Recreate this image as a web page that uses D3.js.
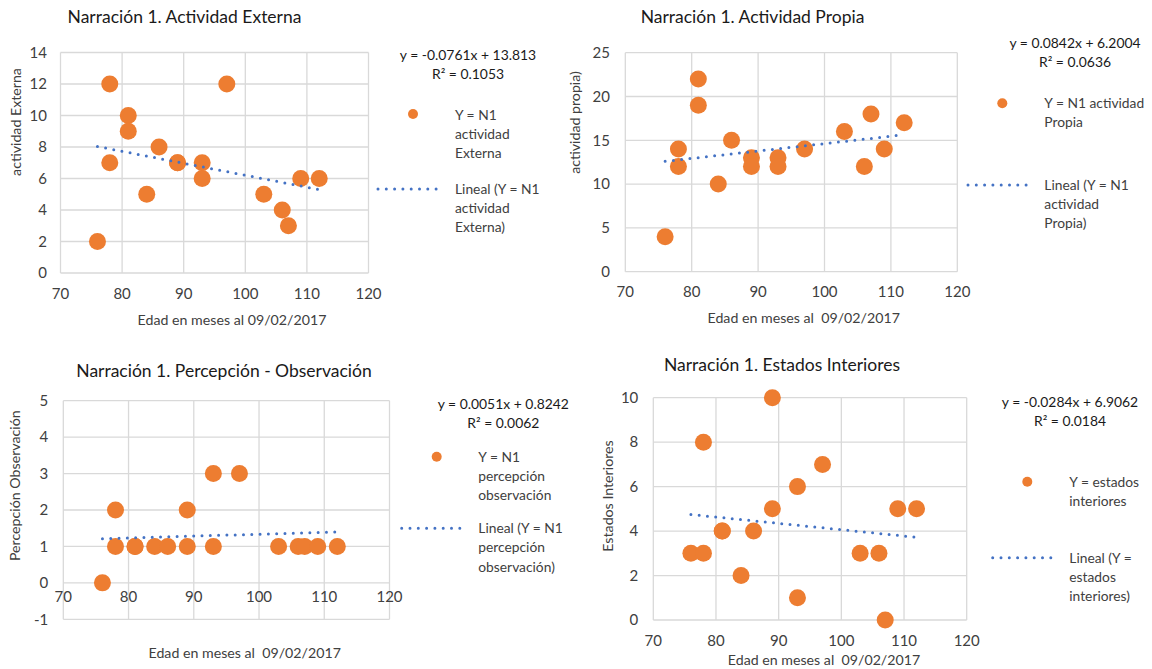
<!DOCTYPE html>
<html><head><meta charset="utf-8">
<script src="https://cdn.jsdelivr.net/npm/d3@7"></script>
<style>
html,body{margin:0;padding:0;background:#fff;}
svg{display:block;font-family:Lato, "Open Sans", sans-serif;}
</style></head>
<body>
<svg id="chart" width="1152" height="669"></svg>
<script>
// ---- data ----
const ages = [76,78,78,81,81,84,86,89,89,93,93,97,103,106,107,109,112];
const actividadExterna = [2,12,7,10,9,5,8,7,7,7,6,12,5,4,3,6,6];
const actividadPropia = [4,14,12,22,19,10,15,13,12,13,12,14,16,12,18,14,17];
const percepcionObservacion = [0,2,1,1,1,1,1,2,1,3,1,3,1,1,1,1,1];
const estadosInteriores = [3,8,3,4,4,2,4,10,5,6,1,7,3,3,0,5,5];

const xTicks = [70,80,90,100,110,120];
const yTicksExterna = [0,2,4,6,8,10,12,14];
const yTicksPropia = [0,5,10,15,20,25];
const yTicksPercepcion = [-1,0,1,2,3,4,5];
const yTicksEstados = [0,2,4,6,8,10];

const titles = ["Narración 1. Actividad Externa","Narración 1. Actividad Propia","Narración 1. Percepción - Observación","Narración 1. Estados Interiores"];
const yTitles = ["actividad Externa","actividad propia)","Percepción Observación","Estados Interiores"];
const xTitles = ["Edad en meses al 09/02/2017","Edad en meses al  09/02/2017","Edad en meses al  09/02/2017","Edad en meses al  09/02/2017"];
const equations = ["y = -0.0761x + 13.813","y = 0.0842x + 6.2004","y = 0.0051x + 0.8242","y = -0.0284x + 6.9062"];
const rSquared = ["R² = 0.1053","R² = 0.0636","R² = 0.0062","R² = 0.0184"];
const seriesLabels = [["Y = N1","actividad","Externa"],["Y = N1 actividad","Propia"],["Y = N1","percepción","observación"],["Y = estados","interiores"]];
const trendLabels = [["Lineal (Y = N1","actividad","Externa)"],["Lineal (Y = N1","actividad","Propia)"],["Lineal (Y = N1","percepción","observación)"],["Lineal (Y =","estados","interiores)"]];

// ---- layout ----
const panels = [
  {vals:actividadExterna, yTicks:yTicksExterna, plot:{x0:60.5,x1:368.5,y0:52.5,y1:273},
   title:{x:184.5,y:17}, yTickX:47, xTickY:294, xTitle:{x:232,y:320}, yTitle:{x:16,y:122},
   eq:{x:468,y:55}, mark:{x:413,y:114}, sText:{x:455,y:115}, tLine:{x0:378,x1:441,y:189}, tText:{x:455,y:189}},
  {vals:actividadPropia, yTicks:yTicksPropia, plot:{x0:625.3,x1:957.3,y0:52.7,y1:271.7},
   title:{x:752.5,y:17}, yTickX:610, xTickY:292, xTitle:{x:803.7,y:318}, yTitle:{x:575,y:122.5},
   eq:{x:1075,y:43.3}, mark:{x:1002.3,y:103.3}, sText:{x:1044.3,y:103.3}, tLine:{x0:968,x1:1030,y:185}, tText:{x:1044.3,y:185}},
  {vals:percepcionObservacion, yTicks:yTicksPercepcion, plot:{x0:63.3,x1:389.5,y0:400.7,y1:619.3},
   title:{x:224,y:370.7}, yTickX:48.3, xTickY:596.7, xTitle:{x:244.7,y:653.3}, yTitle:{x:15,y:485.7},
   eq:{x:503.3,y:404}, mark:{x:436.7,y:456.7}, sText:{x:478.3,y:456.7}, tLine:{x0:401.7,x1:464,y:528.3}, tText:{x:478.3,y:528.3}},
  {vals:estadosInteriores, yTicks:yTicksEstados, plot:{x0:653.3,x1:966.7,y0:397.7,y1:620},
   title:{x:782,y:365}, yTickX:638.3, xTickY:641, xTitle:{x:824,y:660}, yTitle:{x:608.3,y:496},
   eq:{x:1070,y:402.3}, mark:{x:1027.3,y:481.7}, sText:{x:1069.3,y:481.7}, tLine:{x0:992.7,x1:1056,y:557.7}, tText:{x:1069.3,y:557.7}}
];

const ORANGE = "#ED7D31", BLUE = "#4472C4", GRID = "#D9D9D9", TXT = "#404040";
const FS = {title:17.5, tick:15, axis:14.2, eq:13.9, legend:13.8};
const svg = d3.select("#chart");

function regression(xs, ys){
  const n = xs.length, mx = d3.mean(xs), my = d3.mean(ys);
  let sxy=0, sxx=0;
  for(let i=0;i<n;i++){ sxy += (xs[i]-mx)*(ys[i]-my); sxx += (xs[i]-mx)**2; }
  const b = sxy/sxx; return {b, a: my - b*mx};
}

panels.forEach((p,i)=>{
  const g = svg.append("g");
  const x = d3.scaleLinear().domain([xTicks[0], xTicks[xTicks.length-1]]).range([p.plot.x0, p.plot.x1]);
  const y = d3.scaleLinear().domain([p.yTicks[0], p.yTicks[p.yTicks.length-1]]).range([p.plot.y1, p.plot.y0]);

  // gridlines
  g.append("g").selectAll("line").data(p.yTicks).join("line")
    .attr("x1", p.plot.x0).attr("x2", p.plot.x1).attr("y1", d=>y(d)).attr("y2", d=>y(d))
    .attr("stroke", GRID).attr("stroke-width", 1.3);
  g.append("g").selectAll("line").data(xTicks).join("line")
    .attr("y1", p.plot.y0).attr("y2", p.plot.y1).attr("x1", d=>x(d)).attr("x2", d=>x(d))
    .attr("stroke", GRID).attr("stroke-width", 1.3);

  // y tick labels
  g.append("g").selectAll("text").data(p.yTicks).join("text")
    .attr("x", p.yTickX).attr("y", d=>y(d)).attr("dy","0.35em").attr("text-anchor","end")
    .attr("font-size", FS.tick).attr("fill", TXT).text(d=>d);
  // x tick labels
  g.append("g").selectAll("text").data(xTicks).join("text")
    .attr("x", d=>x(d)).attr("y", p.xTickY).attr("dy","0.35em").attr("text-anchor","middle")
    .attr("font-size", FS.tick).attr("fill", TXT).text(d=>d);

  // title
  g.append("text").attr("x", p.title.x).attr("y", p.title.y).attr("dy","0.35em").attr("text-anchor","middle")
    .attr("font-size", FS.title).attr("fill", "#1a1a1a").text(titles[i]);
  // axis titles
  g.append("text").attr("x", p.xTitle.x).attr("y", p.xTitle.y).attr("dy","0.35em").attr("text-anchor","middle")
    .attr("font-size", FS.axis).attr("fill", TXT).style("white-space","pre").text(xTitles[i]);
  g.append("text").attr("transform", `translate(${p.yTitle.x},${p.yTitle.y}) rotate(-90)`).attr("dy","0.35em")
    .attr("text-anchor","middle").attr("font-size", FS.axis).attr("fill", TXT).text(yTitles[i]);

  // points
  const pts = ages.map((a,k)=>({x:a, y:p.vals[k]}));
  g.append("g").selectAll("circle").data(pts).join("circle")
    .attr("cx", d=>x(d.x)).attr("cy", d=>y(d.y)).attr("r", 8.5).attr("fill", ORANGE);

  // trendline
  const r = regression(ages, p.vals);
  const xs = d3.extent(ages);
  g.append("line").attr("x1", x(xs[0])).attr("x2", x(xs[1]))
    .attr("y1", y(r.a + r.b*xs[0])).attr("y2", y(r.a + r.b*xs[1]))
    .attr("stroke", BLUE).attr("stroke-width", 3).attr("stroke-linecap","round").attr("stroke-dasharray","0 8.3");

  // equation
  g.append("text").attr("x", p.eq.x).attr("y", p.eq.y).attr("dy","0.35em").attr("text-anchor","middle")
    .attr("font-size", FS.eq).attr("fill", "#1a1a1a").text(equations[i]);
  g.append("text").attr("x", p.eq.x).attr("y", p.eq.y + 19).attr("dy","0.35em").attr("text-anchor","middle")
    .attr("font-size", FS.eq).attr("fill", "#1a1a1a").text(rSquared[i]);

  // legend
  g.append("circle").attr("cx", p.mark.x).attr("cy", p.mark.y).attr("r", 5).attr("fill", ORANGE);
  g.append("g").selectAll("text").data(seriesLabels[i]).join("text")
    .attr("x", p.sText.x).attr("y", (d,k)=>p.sText.y + k*19.3).attr("dy","0.35em")
    .attr("font-size", FS.legend).attr("fill", TXT).text(d=>d);
  g.append("line").attr("x1", p.tLine.x0).attr("x2", p.tLine.x1).attr("y1", p.tLine.y).attr("y2", p.tLine.y)
    .attr("stroke", BLUE).attr("stroke-width", 3).attr("stroke-linecap","round").attr("stroke-dasharray","0 8.3");
  g.append("g").selectAll("text").data(trendLabels[i]).join("text")
    .attr("x", p.tText.x).attr("y", (d,k)=>p.tText.y + k*19.3).attr("dy","0.35em")
    .attr("font-size", FS.legend).attr("fill", TXT).text(d=>d);
});
</script>
</body></html>
